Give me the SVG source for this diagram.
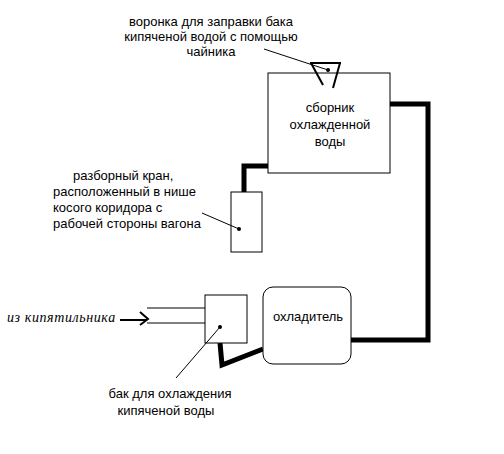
<svg xmlns="http://www.w3.org/2000/svg" width="504" height="454" viewBox="0 0 504 454">
<style>
text{font-family:"Liberation Sans",Arial,sans-serif;font-size:13px;fill:#000}
.it{font-family:"Liberation Serif",serif;font-style:italic;font-size:14px;letter-spacing:0.6px}
.box{fill:#fff;stroke:#000;stroke-width:1}
.pipe{fill:none;stroke:#000;stroke-width:5;stroke-linejoin:miter}
.thin{fill:none;stroke:#000;stroke-width:1}
.med{fill:none;stroke:#000;stroke-width:2}
</style>
<rect width="504" height="454" fill="#fff"/>
<g id="connectors">
<polyline class="pipe" points="390,104 428,104 428,340 351,340"/>
<polyline class="pipe" points="244,192 244,166 268,166"/>
<polyline class="pipe" points="220,343 222,365 263,349"/>
<line class="thin" x1="147" y1="308" x2="205" y2="308"/>
<line class="thin" x1="147" y1="323" x2="205" y2="323"/>
<line class="med" x1="120" y1="320" x2="147" y2="320"/>
<polyline class="med" points="140,312 148,319 140,325"/>
</g>
<g id="collector">
<rect class="box" x="268" y="73" width="122" height="100"/>
<text x="330" y="112" text-anchor="middle">сборник</text>
<text x="330" y="129" text-anchor="middle">охлажденной</text>
<text x="330" y="146" text-anchor="middle">воды</text>
</g>
<g id="funnel">
<line class="med" x1="310" y1="63" x2="341" y2="63"/>
<line class="med" x1="311" y1="63" x2="323" y2="85"/>
<line class="med" x1="340" y1="63" x2="333" y2="88"/>
<line class="thin" x1="264" y1="49" x2="328" y2="70"/>
<circle cx="328" cy="70" r="2"/>
<text x="211" y="26" text-anchor="middle">воронка для заправки бака</text>
<text x="211" y="41" text-anchor="middle">кипяченой водой с помощью</text>
<text x="211" y="56" text-anchor="middle">чайника</text>
</g>
<g id="tap">
<rect class="box" x="231" y="192" width="31" height="60"/>
<line class="thin" x1="202" y1="213" x2="239" y2="229"/>
<circle cx="239" cy="229" r="2"/>
<text x="73" y="180">разборный кран,</text>
<text x="53" y="196">расположенный в нише</text>
<text x="53" y="212">косого коридора с</text>
<text x="53" y="228">рабочей стороны вагона</text>
</g>
<g id="tank">
<rect class="box" x="205" y="295" width="42" height="48"/>
<line class="thin" x1="220" y1="327" x2="176" y2="378"/>
<circle cx="220" cy="327" r="2"/>
<text x="170" y="398" text-anchor="middle">бак для охлаждения</text>
<text x="166" y="415" text-anchor="middle">кипяченой воды</text>
</g>
<g id="source">
<text class="it" x="7" y="322">из  кипятильника</text>
</g>
<g id="cooler">
<rect class="box" x="263" y="287" width="88" height="77" rx="10" ry="10"/>
<text x="308" y="321" text-anchor="middle">охладитель</text>
</g>
</svg>
